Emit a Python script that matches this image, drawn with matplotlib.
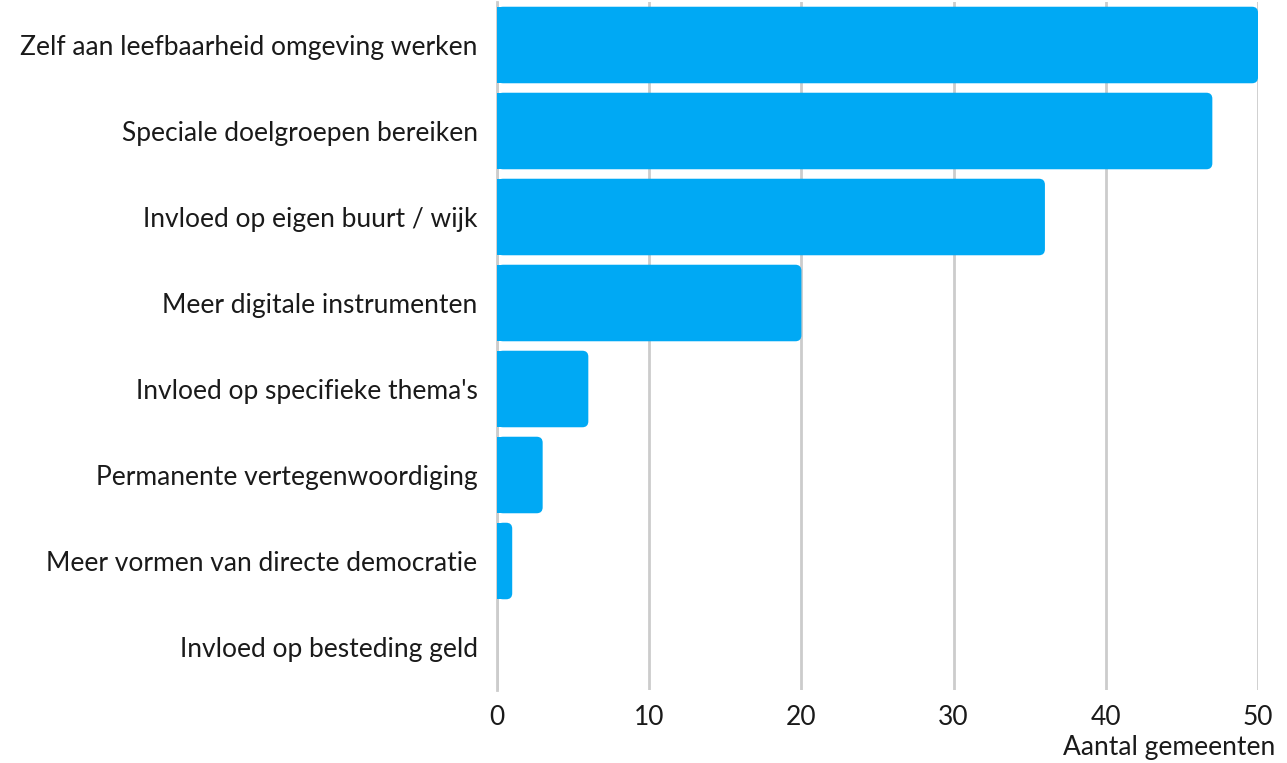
import matplotlib.pyplot as plt
from matplotlib.patches import FancyBboxPatch, Rectangle

plt.rcParams['font.family'] = ['Lato', 'DejaVu Sans']

categories = ['Zelf aan leefbaarheid omgeving werken',
              'Speciale doelgroepen bereiken',
              'Invloed op eigen buurt / wijk',
              'Meer digitale instrumenten',
              "Invloed op specifieke thema's",
              'Permanente vertegenwoordiging',
              'Meer vormen van directe democratie',
              'Invloed op besteding geld']
values = [50, 47, 36, 20, 6, 3, 1, 0]
xticks = [0, 10, 20, 30, 40, 50]

bar_color = '#00a9f4'
text_color = '#1a1a1a'
grid_color = '#cccccc'
fs = 19

fig = plt.figure(figsize=(12.87, 7.63), dpi=100)
ax = fig.add_axes([497 / 1287, 1 - 690 / 763, 761 / 1287, 688 / 763])

ax.set_xlim(0, 50)
ax.set_ylim(len(categories) - 0.5, -0.5)

bar_h = 0.89
# rounded right corners, ~6 px radius
px_x = 50 / 761
px_y = len(categories) / 688
r = 6 * px_x
aspect = px_y / px_x
for i, v in enumerate(values):
    if v <= 0:
        continue
    y0 = i - bar_h / 2
    ax.add_patch(FancyBboxPatch((0, y0), v, bar_h,
                                boxstyle=f'round,pad=0,rounding_size={r}',
                                mutation_aspect=aspect,
                                fc=bar_color, ec='none', zorder=3, clip_on=False))
    ax.add_patch(Rectangle((0, y0), min(v / 2, r * 2), bar_h,
                           fc=bar_color, ec='none', zorder=3))

ax.set_yticks(range(len(categories)))
ax.set_yticklabels(categories, fontsize=fs, color=text_color)
ax.set_xticks(xticks)
ax.set_xticklabels([str(t) for t in xticks], fontsize=fs, color=text_color)
ax.tick_params(axis='y', length=0, pad=14)
ax.tick_params(axis='x', length=0, pad=11)

ax.grid(axis='x', color=grid_color, linewidth=2, zorder=0)
ax.set_axisbelow(True)
for s in ['top', 'right', 'bottom']:
    ax.spines[s].set_visible(False)
ax.spines['left'].set_color(grid_color)
ax.spines['left'].set_linewidth(2)

fig.text(1275 / 1287, 1 - 748 / 763, 'Aantal gemeenten', fontsize=fs,
         color=text_color, ha='right', va='center')

fig.savefig('out.png', dpi=100)
